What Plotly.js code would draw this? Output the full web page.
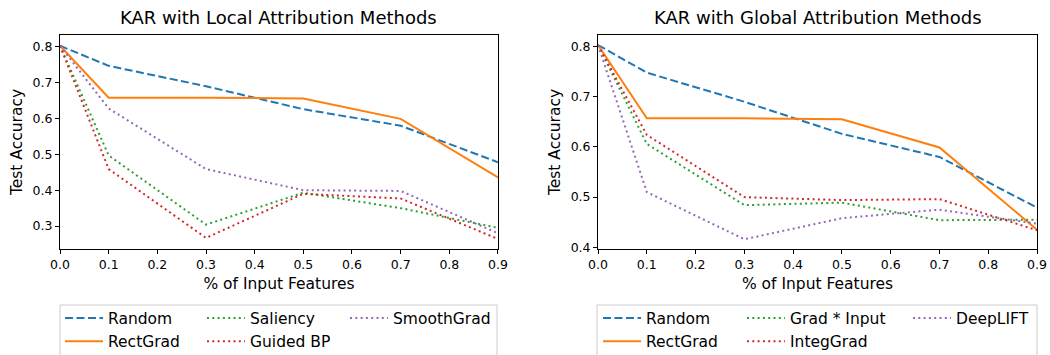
<!DOCTYPE html>
<html>
<head>
<meta charset="utf-8">
<script src="https://cdn.plot.ly/plotly-3.0.1.min.js"></script>
<style>
  html, body { margin: 0; padding: 0; background: #ffffff; }
  #chart { width: 1050px; height: 355px; }
</style>
</head>
<body>
<div id="chart"></div>
<script>
// ---- data ----
const xFractions = [0.0, 0.1, 0.3, 0.5, 0.7, 0.9];

const panelTitles = ["KAR with Local Attribution Methods", "KAR with Global Attribution Methods"];
const xTickVals = [0.0, 0.1, 0.2, 0.3, 0.4, 0.5, 0.6, 0.7, 0.8, 0.9];
const xAxisLabel = "% of Input Features";
const yAxisLabel = "Test Accuracy";

// Local attribution panel
const localNames = ["Random", "RectGrad", "Saliency", "Guided BP", "SmoothGrad"];
const localRandom     = [0.803, 0.747, 0.690, 0.626, 0.580, 0.478];
const localRectGrad   = [0.803, 0.658, 0.658, 0.656, 0.599, 0.436];
const localSaliency   = [0.803, 0.497, 0.304, 0.393, 0.350, 0.295];
const localGuidedBP   = [0.803, 0.459, 0.267, 0.390, 0.377, 0.264];
const localSmoothGrad = [0.803, 0.628, 0.459, 0.400, 0.398, 0.280];

// Global attribution panel
const globalNames = ["Random", "RectGrad", "Grad * Input", "IntegGrad", "DeepLIFT"];
const globalRandom    = [0.803, 0.748, 0.690, 0.626, 0.580, 0.479];
const globalRectGrad  = [0.803, 0.657, 0.657, 0.655, 0.599, 0.435];
const globalGradInput = [0.803, 0.606, 0.484, 0.489, 0.454, 0.455];
const globalIntegGrad = [0.803, 0.624, 0.500, 0.494, 0.496, 0.434];
const globalDeepLIFT  = [0.803, 0.510, 0.416, 0.458, 0.475, 0.447];

const yTicksLocal = [0.3, 0.4, 0.5, 0.6, 0.7, 0.8];
const yTicksGlobal = [0.4, 0.5, 0.6, 0.7, 0.8];

// ---- styles ----
const colors = ["#1f77b4", "#ff7f0e", "#2ca02c", "#d62728", "#9467bd"];
const dashes = ["8px,3.5px", "solid", "2px,3.3px", "2px,3.3px", "2px,3.3px"];
// legend column of each series (matplotlib ncol=3, column-major)
const legendColumn = [0, 0, 1, 1, 2];

const FONT = "DejaVu Sans, Liberation Sans, sans-serif";

// plot area geometry (paper fractions)
const d1 = [0, 0.4483];
const d2 = [0.5507, 1];
const plotL = 60, plotW = 977;
const px2paper = (px) => (px - plotL) / plotW;

// legend column left edges, in pixels
const legendColsLocal = [60, 202, 345];
const legendColsGlobal = [598, 742, 908];

function makeTraces(names, series, xa, ya, legendBase) {
  return series.map((ys, i) => {
    const k = legendBase + legendColumn[i];
    return {
      type: "scatter",
      mode: "lines",
      x: xFractions,
      y: ys,
      name: names[i],
      xaxis: xa,
      yaxis: ya,
      legend: k === 1 ? "legend" : "legend" + k,
      line: { color: colors[i], width: 2, dash: dashes[i] },
      hoverinfo: "skip"
    };
  });
}

const traces = [
  ...makeTraces(localNames, [localRandom, localRectGrad, localSaliency, localGuidedBP, localSmoothGrad], "x", "y", 1),
  ...makeTraces(globalNames, [globalRandom, globalRectGrad, globalGradInput, globalIntegGrad, globalDeepLIFT], "x2", "y2", 4)
];

function xAxis(domain, anchor) {
  return {
    domain: domain,
    anchor: anchor,
    range: [0, 0.9],
    tickvals: xTickVals,
    tickformat: ".1f",
    ticks: "outside",
    ticklen: 4,
    tickwidth: 1,
    tickcolor: "#000",
    showline: true,
    linecolor: "#000",
    linewidth: 1,
    mirror: true,
    showgrid: false,
    zeroline: false,
    tickfont: { family: FONT, size: 12.5, color: "#000" },
    title: { text: xAxisLabel, font: { family: FONT, size: 15.5, color: "#000" }, standoff: 7 },
    automargin: false
  };
}
function yAxis(range, ticks, anchor) {
  return {
    domain: [0, 1],
    anchor: anchor,
    range: range,
    tickvals: ticks,
    tickformat: ".1f",
    ticks: "outside",
    ticklen: 4,
    tickwidth: 1,
    tickcolor: "#000",
    showline: true,
    linecolor: "#000",
    linewidth: 1,
    mirror: true,
    showgrid: false,
    zeroline: false,
    tickfont: { family: FONT, size: 12.5, color: "#000" },
    title: { text: yAxisLabel, font: { family: FONT, size: 15.5, color: "#000" }, standoff: 6 },
    automargin: false
  };
}

function legendAt(px) {
  return {
    orientation: "v",
    xref: "paper",
    yref: "paper",
    x: px2paper(px),
    y: -0.2453,
    xanchor: "left",
    yanchor: "top",
    itemwidth: 38,
    bgcolor: "rgba(0,0,0,0)",
    borderwidth: 0,
    traceorder: "normal",
    font: { family: FONT, size: 15.5, color: "#000" }
  };
}

const layout = {
  width: 1050,
  height: 355,
  margin: { l: 60, r: 13, t: 35, b: 106, autoexpand: false },
  paper_bgcolor: "#ffffff",
  plot_bgcolor: "#ffffff",
  font: { family: FONT, color: "#000" },
  xaxis: xAxis(d1, "y"),
  yaxis: yAxis([0.236, 0.833], yTicksLocal, "x"),
  xaxis2: xAxis(d2, "y2"),
  yaxis2: yAxis([0.3966, 0.823], yTicksGlobal, "x2"),
  legend: legendAt(legendColsLocal[0]),
  legend2: legendAt(legendColsLocal[1]),
  legend3: legendAt(legendColsLocal[2]),
  legend4: legendAt(legendColsGlobal[0]),
  legend5: legendAt(legendColsGlobal[1]),
  legend6: legendAt(legendColsGlobal[2]),
  shapes: [
    [d1[0], px2paper(497)],
    [px2paper(597), d2[1]]
  ].map(([a, b]) => ({
    type: "rect",
    xref: "paper",
    yref: "paper",
    x0: a,
    x1: b,
    y0: -0.2617,
    y1: -0.52,
    line: { color: "#cccccc", width: 1 },
    fillcolor: "rgba(0,0,0,0)",
    layer: "below"
  })),
  annotations: panelTitles.map((t, i) => ({
    text: t,
    xref: "paper",
    yref: "paper",
    x: i === 0 ? (d1[0] + d1[1]) / 2 : (d2[0] + d2[1]) / 2,
    y: 1.084,
    xanchor: "center",
    yanchor: "middle",
    showarrow: false,
    font: { family: FONT, size: 18, color: "#000" }
  }))
};

Plotly.newPlot("chart", traces, layout, { staticPlot: true, displayModeBar: false });
</script>
</body>
</html>
